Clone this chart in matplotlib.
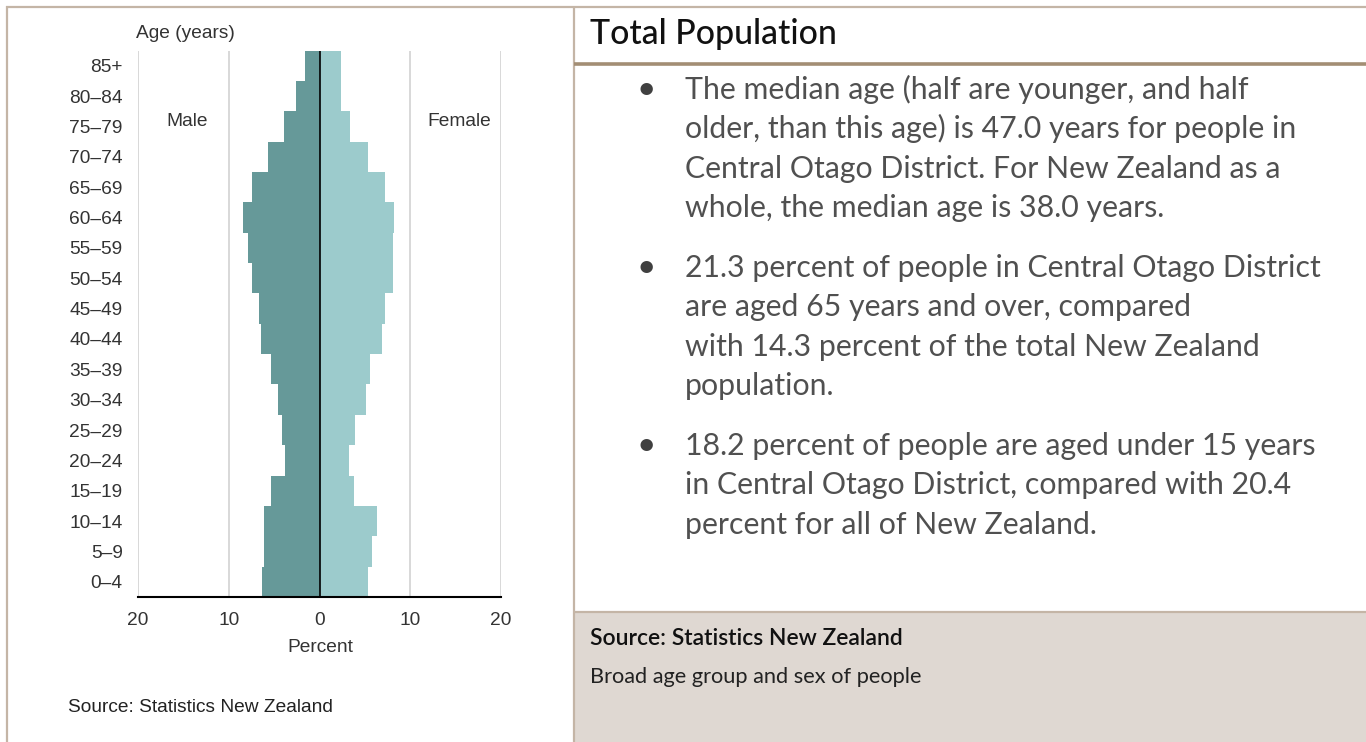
import matplotlib
matplotlib.use('Agg')
import matplotlib.pyplot as plt

# ---------------- data ----------------
age_groups = ['0–4', '5–9', '10–14', '15–19', '20–24', '25–29', '30–34', '35–39',
              '40–44', '45–49', '50–54', '55–59', '60–64', '65–69', '70–74',
              '75–79', '80–84', '85+']
male = [6.3, 6.1, 6.1, 5.35, 3.8, 4.15, 4.55, 5.35, 6.5, 6.7, 7.45, 7.85,
        8.45, 7.45, 5.7, 3.9, 2.55, 1.55]
female = [5.35, 5.75, 6.3, 3.8, 3.2, 3.95, 5.15, 5.55, 6.9, 7.25, 8.1, 8.1,
          8.25, 7.25, 5.35, 3.4, 2.4, 2.4]
x_ticks = [-20, -10, 0, 10, 20]
x_tick_labels = ['20', '10', '0', '10', '20']

title = 'Total Population'
bullets = [
    ['The median age (half are younger, and half',
     'older, than this age) is 47.0 years for people in',
     'Central Otago District. For New Zealand as a',
     'whole, the median age is 38.0 years.'],
    ['21.3 percent of people in Central Otago District',
     'are aged 65 years and over, compared',
     'with 14.3 percent of the total New Zealand',
     'population.'],
    ['18.2 percent of people are aged under 15 years',
     'in Central Otago District, compared with 20.4',
     'percent for all of New Zealand.'],
]
source_title = 'Source: Statistics New Zealand'
source_sub = 'Broad age group and sex of people'

# ---------------- figure ----------------
W, H = 1366, 742
fig = plt.figure(figsize=(W / 100, H / 100), dpi=100)
fig.patch.set_facecolor('white')

# pixel overlay axes for frame and panel text
bg = fig.add_axes([0, 0, 1, 1], zorder=0)
bg.set_xlim(0, W)
bg.set_ylim(H, 0)
bg.axis('off')

border = '#c4b5a6'
bg.plot([6, W], [7, 7], color=border, lw=1.6, solid_capstyle='butt')
bg.plot([7, 7], [6, H], color=border, lw=1.6, solid_capstyle='butt')
bg.plot([574, 574], [7, H], color=border, lw=1.6, solid_capstyle='butt')
bg.plot([574, W], [64, 64], color='#a38e74', lw=2.6, solid_capstyle='butt')
bg.add_patch(plt.Rectangle((575, 612), W - 575, H - 612, facecolor='#dfd8d2',
                           edgecolor='none'))
bg.plot([574, W], [611.5, 611.5], color=border, lw=1.6, solid_capstyle='butt')

renderer = fig.canvas.get_renderer()


def fit(t, target):
    w = t.get_window_extent(renderer).width
    t.set_fontsize(t.get_fontsize() * target / w)
    return t.get_fontsize()


rfont = 'Lato'
body_color = '#505050'
th = bg.text(590, 44, title, fontsize=20, family=rfont, color='#111111',
             ha='left', va='baseline', fontweight='medium')
fit(th, 247)

probe = bg.text(685, 277, bullets[1][0], fontsize=20, family=rfont,
                color=body_color, ha='left', va='baseline')
body_size = fit(probe, 638)
probe.remove()

first_baselines = [99, 277, 455]
line_gap = 39.3
for fb, lines in zip(first_baselines, bullets):
    bg.text(646, fb, '•', fontsize=body_size * 1.1, family=rfont,
            color='#404040', ha='center', va='baseline')
    for i, ln in enumerate(lines):
        bg.text(685, fb + i * line_gap, ln, fontsize=body_size, family=rfont,
                color=body_color, ha='left', va='baseline')

st = bg.text(590, 645, source_title, fontsize=14, family=rfont,
             color='#111111', ha='left', va='baseline', fontweight='semibold')
fit(st, 313)
ss = bg.text(590, 683, source_sub, fontsize=14, family=rfont,
             color='#222222', ha='left', va='baseline')
fit(ss, 333)

# ---------------- pyramid ----------------
lfont = 'Liberation Sans'
lsize = 13.8
tc = '#333333'
x0, x1, y0, y1 = 138, 501, 50.5, 597
ax = fig.add_axes([x0 / W, 1 - y1 / H, (x1 - x0) / W, (y1 - y0) / H], zorder=1)
ax.set_facecolor('none')
ypos = list(range(len(age_groups)))
ax.set_xlim(-20, 20)
ax.set_ylim(-0.5, len(age_groups) - 0.5)
for gx in [-20, -10, 10, 20]:
    ax.axvline(gx, color='#d6d6d6', lw=1.3, zorder=0)
ax.barh(ypos, [-m for m in male], height=1.0, color='#669999', zorder=2,
        linewidth=0)
ax.barh(ypos, female, height=1.0, color='#9ccbcc', zorder=2, linewidth=0)
ax.axvline(0, color='black', lw=1.2, zorder=3)
for s in ['top', 'right', 'left']:
    ax.spines[s].set_visible(False)
ax.spines['bottom'].set_color('black')
ax.spines['bottom'].set_linewidth(1.5)
ax.set_xticks(x_ticks)
ax.set_xticklabels(x_tick_labels)
ax.set_yticks(ypos)
ax.set_yticklabels(age_groups)
ax.tick_params(axis='both', length=0, labelsize=lsize, labelcolor=tc)
ax.tick_params(axis='y', pad=11)
ax.tick_params(axis='x', pad=11)
for lab in ax.get_xticklabels() + ax.get_yticklabels():
    lab.set_family(lfont)

bg.text(136, 34, 'Age (years)', fontsize=lsize, family=lfont, color=tc,
        ha='left', va='center')
bg.text(187, 121, 'Male', fontsize=lsize, family=lfont, color=tc,
        ha='center', va='center')
bg.text(459, 121, 'Female', fontsize=lsize, family=lfont, color=tc,
        ha='center', va='center')
bg.text(320, 648, 'Percent', fontsize=lsize, family=lfont, color=tc,
        ha='center', va='center')
bg.text(68, 708, 'Source: Statistics New Zealand', fontsize=lsize,
        family=lfont, color='#222222', ha='left', va='center')

fig.savefig('out.png', dpi=100)
